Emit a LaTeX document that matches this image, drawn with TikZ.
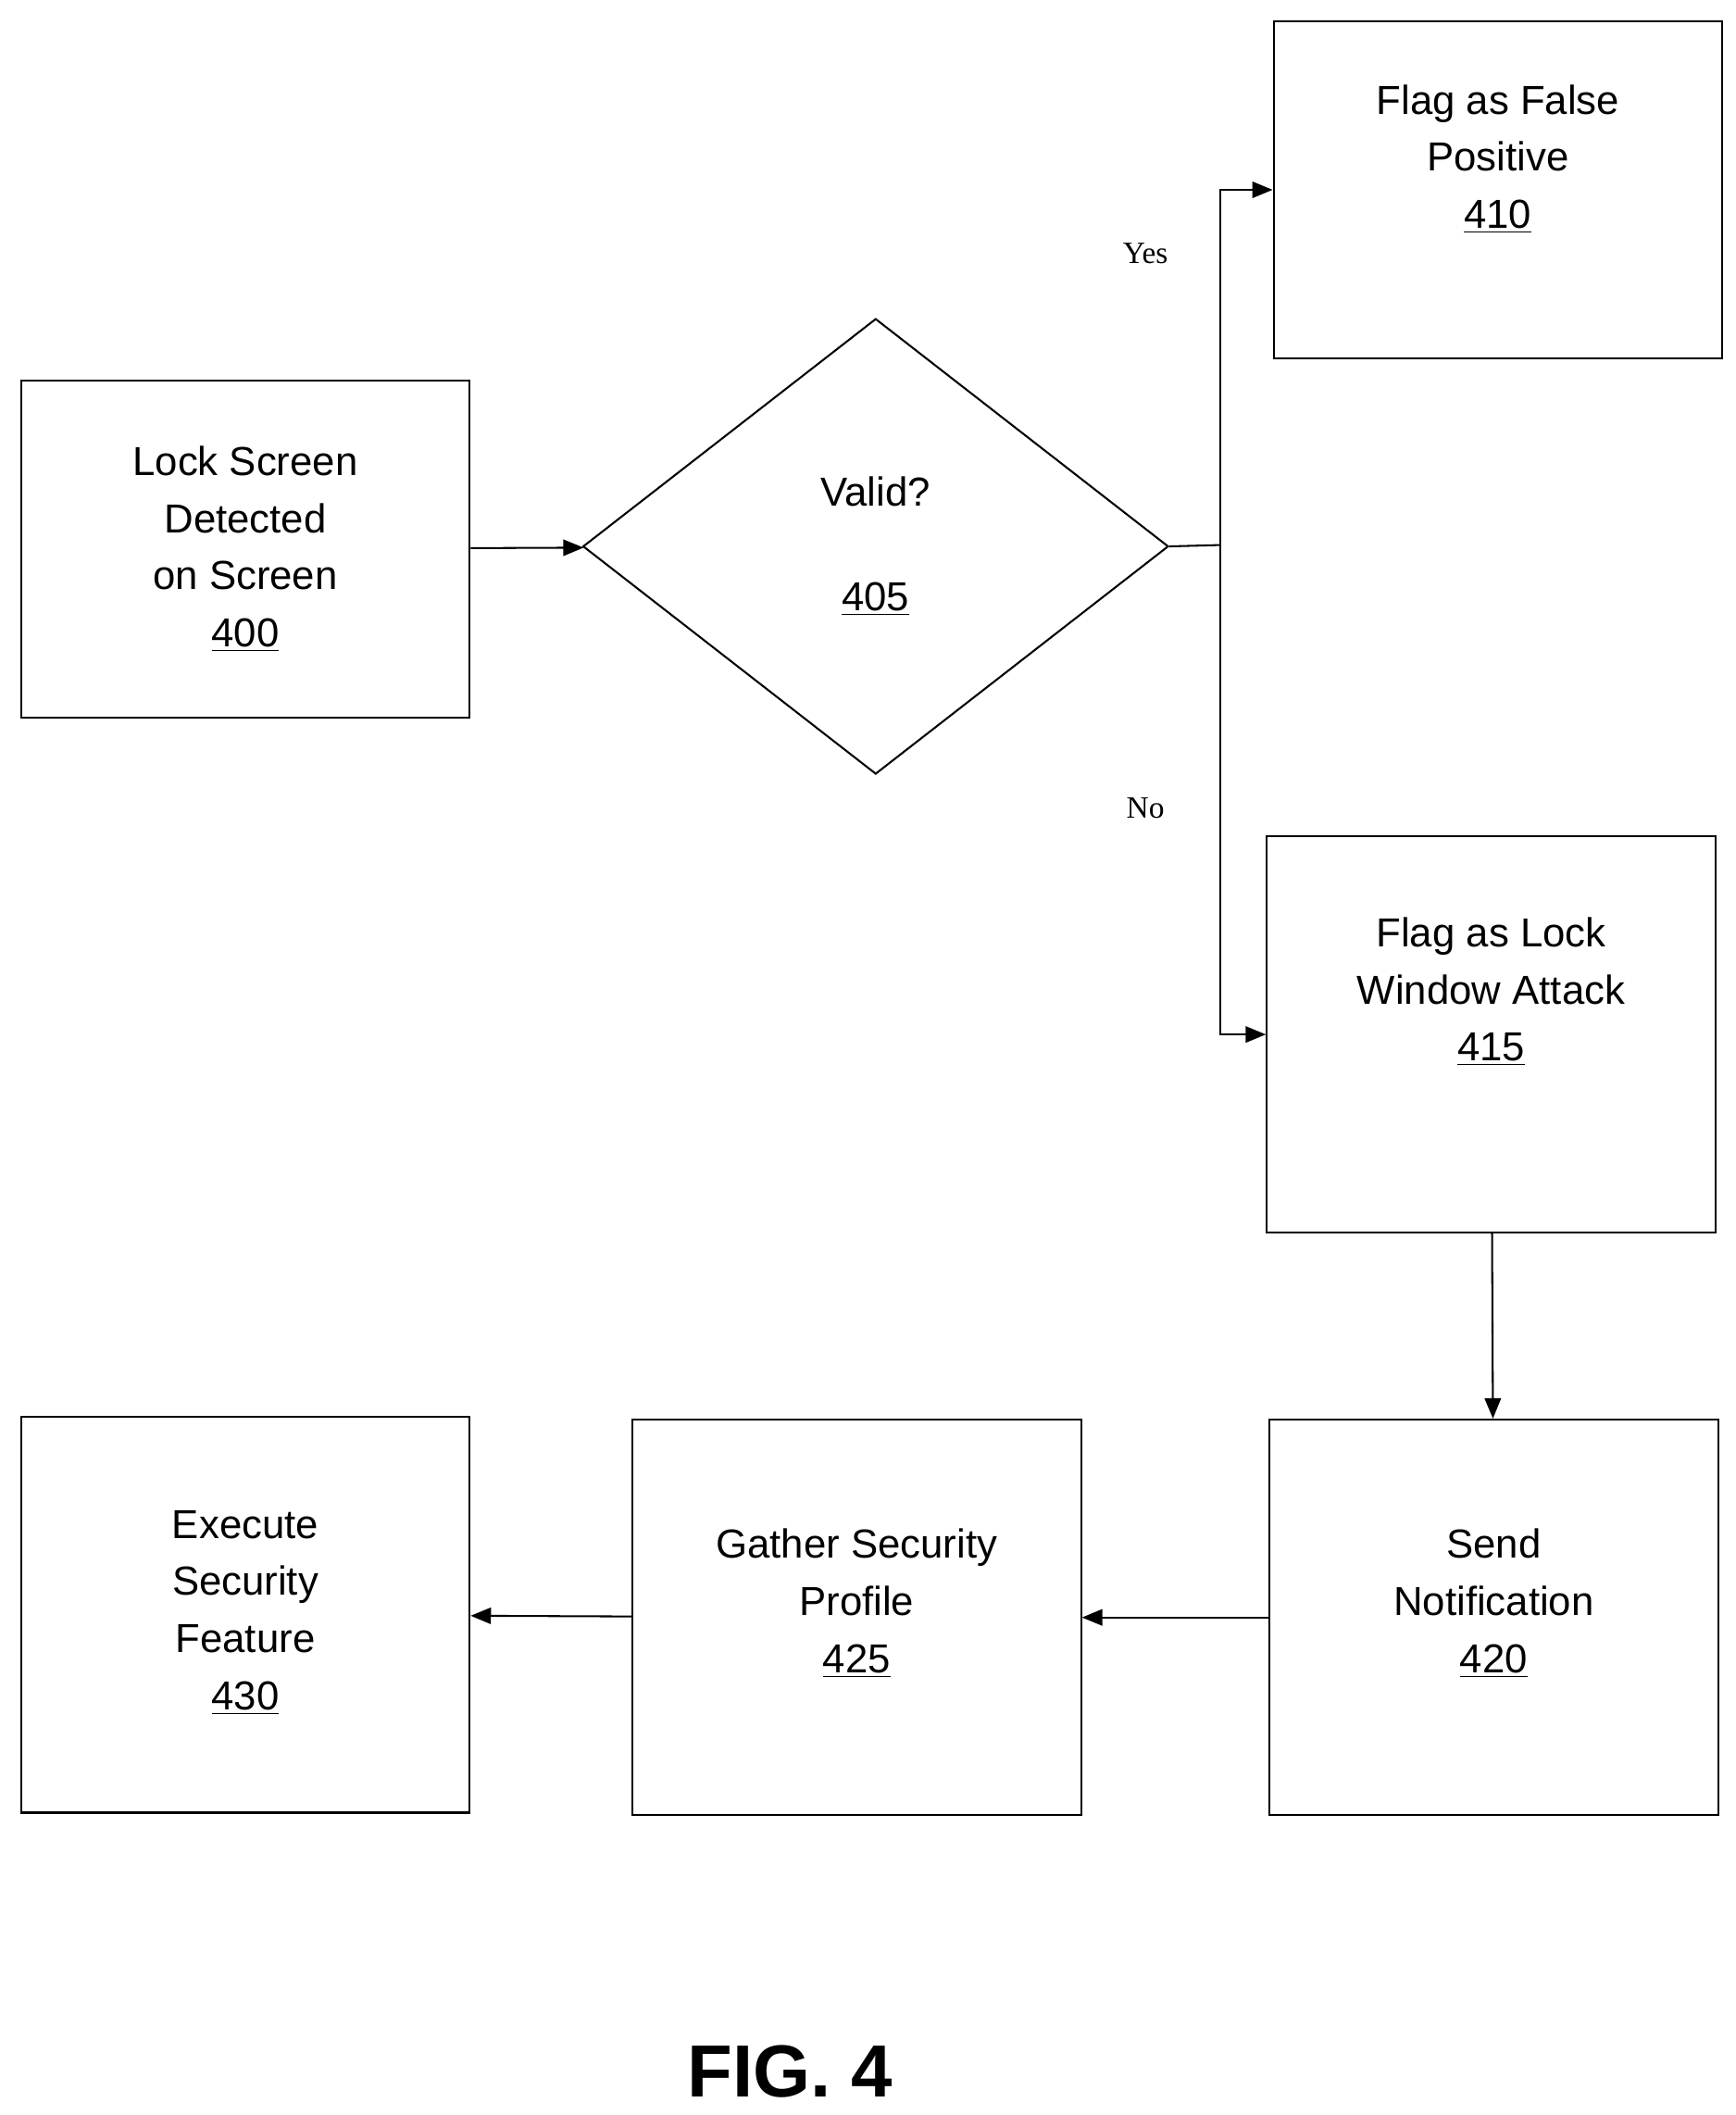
\documentclass[tikz,border=0pt]{standalone}
\usepackage{fontspec}
\setmainfont{Liberation Sans}
\newfontfamily\serifyn{Liberation Serif}
\usetikzlibrary{shapes.geometric,arrows.meta}
\begin{document}
\begin{tikzpicture}
                [x=0.02cm, y=-0.02cm,
                 box/.style={rectangle, draw, thick, minimum width=6.62cm, align=center, font=\fontsize{17}{24}\selectfont},
                 decide/.style={diamond, draw, thick, minimum width=8.64cm, minimum height=6.72cm, inner sep=0pt, align=center, font=\fontsize{17}{24}\selectfont},
                 yn/.style={font=\serifyn\fontsize{13}{15}\selectfont},
                 edge/.style={draw, thick, -{Triangle[length=3mm, width=2.4mm]}}]
                \useasboundingbox (0,0) rectangle (1280,1560);
                % Define nodes
                \node[box, minimum height=4.98cm] (b400) at (181,405) {Lock Screen\\Detected\\on Screen\\\underline{400}};
                \node[decide] (d405) at (646,403) {Valid?\\[20pt]\underline{405}};
                \node[box, minimum height=4.98cm] (b410) at (1105,140) {Flag as False\\Positive\\\underline{410}\\[4pt]};
                \node[box, minimum height=5.84cm] (b415) at (1100,763) {Flag as Lock\\Window Attack\\\underline{415}\\[14pt]};
                \node[box, minimum height=5.84cm] (b420) at (1102,1193) {Send\\Notification\\\underline{420}\\[-10pt]};
                \node[box, minimum height=5.84cm] (b425) at (632,1193) {Gather Security\\Profile\\\underline{425}\\[-10pt]};
                \node[box, minimum height=5.84cm] (b430) at (181,1191) {Execute\\Security\\Feature\\\underline{430}\\[-20pt]};
                \coordinate (br) at (900,402);
                \node[yn] (yes) at (845,187) {Yes};
                \node[yn] (no) at (845,596) {No};
                \node[font=\bfseries\fontsize{31}{36}\selectfont] (fig) at (583,1528) {FIG. 4};
                % Define edges
                \draw[edge] (b400) -- (d405);
                \draw[thick] (d405.east) -- (br);
                \draw[edge] (br) |- (b410.west);
                \draw[edge] (br) |- (b415.west);
                \draw[edge] (b415) -- (b420);
                \draw[edge] (b420) -- (b425);
                \draw[edge] (b425) -- (b430);
            \end{tikzpicture}
\end{document}
